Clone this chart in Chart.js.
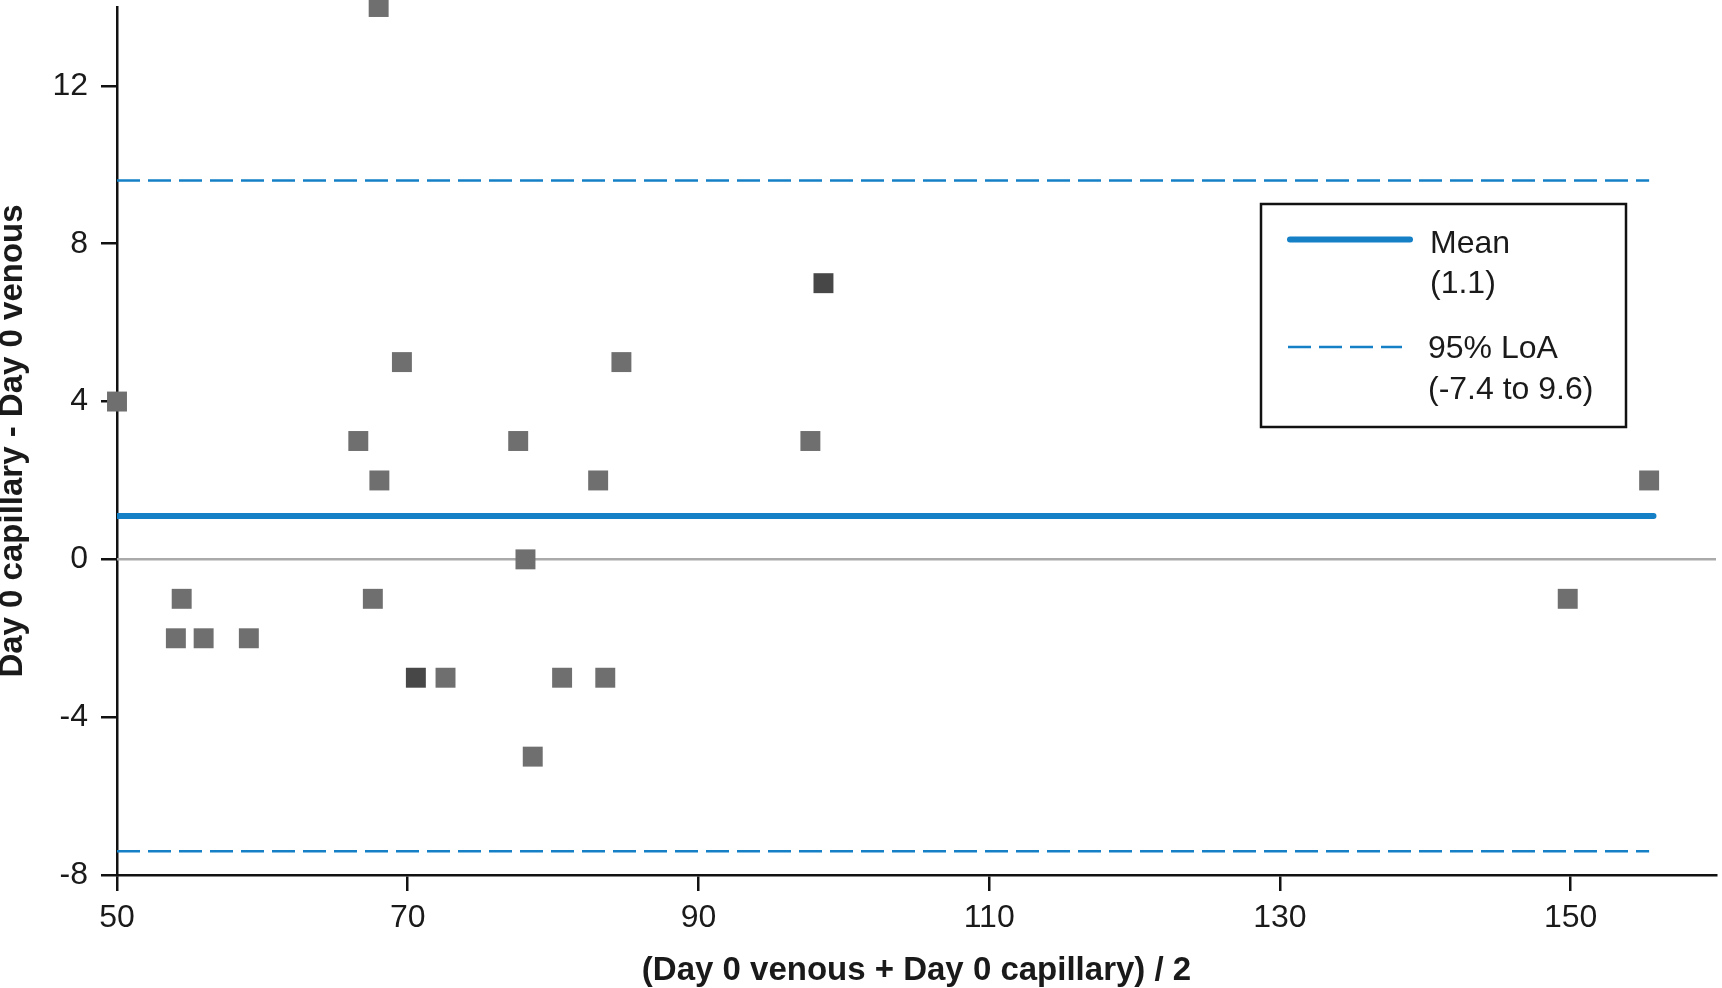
<!DOCTYPE html>
<html>
<head>
<meta charset="utf-8">
<title>Bland-Altman: Day 0 capillary vs venous</title>
<script src="https://cdn.jsdelivr.net/npm/chart.js@4.4.1/dist/chart.umd.min.js"></script>
<style>
  html, body { margin: 0; padding: 0; background: #fff; }
  #wrap { width: 1722px; height: 988px; position: relative; }
</style>
</head>
<body>
<div id="wrap"><canvas id="baChart"></canvas></div>
<script>
// values
const pointsX = [50, 68.0, 54.05, 54.45, 55.96, 59.07, 66.6, 68.05, 67.6, 69.6, 72.6, 77.6, 78.1, 78.6, 80.62, 83.1, 83.59, 84.7, 97.7, 149.8, 155.4];
const pointsY = [4, 14, -2, -1, -2, -2, 3, 2, -1, 5, -3, 3, 0, -5, -3, 2, -3, 5, 3, -1, 2];
// darker squares (overlapping observations)
const darkX = [70.56, 98.6];
const darkY = [-3, 7];

const meanDiff = 1.1;
const loaLow = -7.4;
const loaHigh = 9.6;
const lineStartX = 50;
const meanEndX = 155.7;
const loaEndX = 155.4;

const xTicks = [50, 70, 90, 110, 130, 150];
const yTicks = [-8, -4, 0, 4, 8, 12];
const xRange = [50, 160];
const yRange = [-8, 14];

const blue = '#1580c6';
const grey = '#6f6f6f';
const darkGrey = '#474747';

function toPoints(xs, ys) {
  return xs.map((x, i) => ({ x: x, y: ys[i] }));
}
function hLine(y, x0, x1) {
  return [{ x: x0, y: y }, { x: x1, y: y }];
}

// legend drawn as a boxed key like the original figure
const boxLegend = {
  id: 'boxLegend',
  afterDraw(chart) {
    const ctx = chart.ctx;
    ctx.save();
    ctx.strokeStyle = '#111';
    ctx.lineWidth = 2.5;
    ctx.strokeRect(1261, 204, 365, 223);

    ctx.strokeStyle = blue;
    ctx.lineCap = 'round';
    ctx.lineWidth = 6;
    ctx.beginPath(); ctx.moveTo(1290, 239.5); ctx.lineTo(1410, 239.5); ctx.stroke();

    ctx.lineCap = 'butt';
    ctx.lineWidth = 2.5;
    ctx.setLineDash([23, 8]);
    ctx.beginPath(); ctx.moveTo(1288, 347); ctx.lineTo(1402, 347); ctx.stroke();
    ctx.setLineDash([]);

    ctx.fillStyle = '#1a1a1a';
    ctx.font = '32px "Liberation Sans", Arial, sans-serif';
    ctx.textBaseline = 'middle';
    ctx.textAlign = 'left';
    ctx.fillText('Mean', 1430, 244);
    ctx.fillText('(' + meanDiff.toFixed(1) + ')', 1430, 284);
    ctx.fillText('95% LoA', 1428, 349);
    ctx.fillText('(' + loaLow.toFixed(1) + ' to ' + loaHigh.toFixed(1) + ')', 1428, 390);
    ctx.restore();
  }
};

const lineStyle = { showLine: true, pointRadius: 0, pointHoverRadius: 0, fill: false, order: 2 };

const ctx = document.getElementById('baChart').getContext('2d');
new Chart(ctx, {
  type: 'scatter',
  data: {
    datasets: [
      Object.assign({ label: 'zero', data: hLine(0, xRange[0], xRange[1]), borderColor: '#aaaaaa', borderWidth: 2.5 }, lineStyle),
      Object.assign({ label: 'Upper LoA', data: hLine(loaHigh, lineStartX, loaEndX), borderColor: blue, borderWidth: 2.5, borderDash: [23, 8] }, lineStyle),
      Object.assign({ label: 'Lower LoA', data: hLine(loaLow, lineStartX, loaEndX), borderColor: blue, borderWidth: 2.5, borderDash: [23, 8] }, lineStyle),
      Object.assign({ label: 'Mean', data: hLine(meanDiff, lineStartX, meanEndX), borderColor: blue, borderWidth: 6, borderCapStyle: 'round' }, lineStyle),
      { label: 'Differences', data: toPoints(pointsX, pointsY), pointStyle: 'rect', pointRadius: 14.1, pointHoverRadius: 14.1,
        backgroundColor: grey, borderColor: grey, pointBorderWidth: 0, clip: false, order: 0 },
      { label: 'Differences (overlap)', data: toPoints(darkX, darkY), pointStyle: 'rect', pointRadius: 14.1, pointHoverRadius: 14.1,
        backgroundColor: darkGrey, borderColor: darkGrey, pointBorderWidth: 0, clip: false, order: 0 }
    ]
  },
  options: {
    responsive: true,
    maintainAspectRatio: false,
    animation: false,
    layout: { autoPadding: false, padding: { top: 7, right: 6, left: 0, bottom: 0 } },
    plugins: { legend: { display: false }, tooltip: { enabled: false } },
    scales: {
      x: {
        type: 'linear',
        min: xRange[0],
        max: xRange[1],
        afterBuildTicks: s => { s.ticks = xTicks.map(v => ({ value: v })); },
        afterFit: s => { s.height = 113; s.paddingRight = 0; },
        border: { display: true, color: '#111', width: 2.5 },
        grid: { drawOnChartArea: false, drawTicks: true, tickLength: 16, color: '#111', lineWidth: 2.5 },
        ticks: { color: '#1a1a1a', padding: 8, font: { family: '"Liberation Sans", Arial, sans-serif', size: 32 } },
        title: { display: true, text: '(Day 0 venous + Day 0 capillary) / 2', color: '#1a1a1a',
          padding: { top: 0, bottom: 1 },
          font: { family: '"Liberation Sans", Arial, sans-serif', size: 33, weight: 'bold', lineHeight: 1 } }
      },
      y: {
        type: 'linear',
        min: yRange[0],
        max: yRange[1],
        afterBuildTicks: s => { s.ticks = yTicks.map(v => ({ value: v })); },
        afterFit: s => { s.width = 117; s.paddingTop = 0; s.paddingBottom = 0; },
        border: { display: true, color: '#111', width: 2.5 },
        grid: { drawOnChartArea: false, drawTicks: true, tickLength: 16, color: '#111', lineWidth: 2.5 },
        ticks: { color: '#1a1a1a', padding: 13, font: { family: '"Liberation Sans", Arial, sans-serif', size: 32 } },
        title: { display: true, text: 'Day 0 capillary - Day 0 venous', color: '#1a1a1a',
          padding: { top: 0, bottom: 0 },
          font: { family: '"Liberation Sans", Arial, sans-serif', size: 33, weight: 'bold', lineHeight: 0.8 } }
      }
    }
  },
  plugins: [boxLegend]
});
</script>
</body>
</html>
